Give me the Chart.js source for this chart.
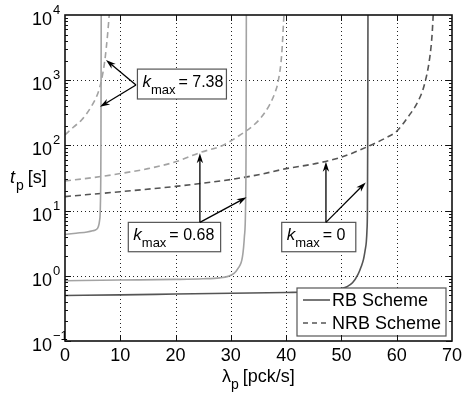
<!DOCTYPE html>
<html>
<head>
<meta charset="utf-8">
<script src="https://cdn.jsdelivr.net/npm/chart.js@4.4.0/dist/chart.umd.min.js"></script>
<style>
  html, body { margin: 0; padding: 0; background: #fff; }
  #box { width: 462px; height: 393px; position: relative; }
</style>
</head>
<body>
<div id="box"><canvas id="tp-chart"></canvas></div>
<script>
// ejes
const xTicks = [0, 10, 20, 30, 40, 50, 60, 70];
const yExp = [-1, 0, 1, 2, 3, 4];

// RB Scheme (linea continua)
const lambdaRB0 = [0, 10, 20, 30, 40, 45, 48, 50, 51, 52, 53, 53.6, 54, 54.3, 54.5, 54.62, 54.7, 54.75, 54.8];
const tRB0 = [0.50, 0.51, 0.525, 0.54, 0.555, 0.57, 0.6, 0.64, 0.68, 0.78, 1.05, 1.4, 1.8, 2.5, 3.3, 5, 10, 100, 10000];

const lambdaRB068 = [0, 10, 20, 25, 28, 29.5, 30.5, 31.3, 32.1, 32.45, 32.65, 32.75, 32.8];
const tRB068 = [0.84, 0.86, 0.88, 0.9, 0.93, 0.98, 1.08, 1.3, 1.96, 4, 10, 100, 10000];

const lambdaRB738 = [0, 2, 4, 5, 5.6, 6.0, 6.25, 6.4, 6.5, 6.55];
const tRB738 = [4.3, 4.5, 4.7, 4.9, 5.1, 5.6, 7, 12, 100, 10000];

// NRB Scheme (linea discontinua)
const lambdaNRB0 = [0, 10, 20, 30, 35, 40, 45, 50, 55, 58, 60, 62, 64, 65, 66, 66.4, 66.6];
const tNRB0 = [16.4, 19.5, 23.5, 30, 35.5, 44, 52, 66, 98, 130, 165, 270, 500, 850, 2300, 5000, 10000];

const lambdaNRB068 = [0, 5, 10, 15, 20, 24.5, 28.5, 31.7, 34, 35.5, 37, 38, 38.6, 39.2, 39.6];
const tNRB068 = [28.5, 32, 37, 44, 56, 78, 100, 145, 200, 270, 420, 650, 1000, 2500, 10000];

const lambdaNRB738 = [0, 1.5, 3, 4.8, 6, 6.6, 7.2, 7.7, 8.0];
const tNRB738 = [145, 190, 245, 400, 650, 1000, 2000, 5000, 10000];

// cajas de texto con flechas (coordenadas en datos)
const annotations = [
  { value: '7.38', box: [13.1, 29.2, 1480, 515], tail: [12.84, 845], tips: [[7.41, 2040], [6.33, 390]] },
  { value: '0.68', box: [11.45, 28.15, 6.6, 2.34], tail: [24.4, 6.6], tips: [[24.4, 76], [32.85, 16]] },
  { value: '0', box: [39.2, 52.6, 6.6, 2.34], tail: [47.2, 6.6], tips: [[47.2, 56], [54.4, 27]] }
];

const FONT = '"Liberation Sans", Arial, Helvetica, sans-serif';
const DARK = '#555555';
const LIGHT = '#a3a3a3';

function pts(xs, ys) {
  return xs.map(function (x, i) { return { x: x, y: ys[i] }; });
}

function serie(xs, ys, color, dashed) {
  return {
    data: pts(xs, ys),
    borderColor: color,
    borderWidth: 1.6,
    borderDash: dashed ? [6, 4] : [],
    showLine: true,
    fill: false,
    pointRadius: 0,
    cubicInterpolationMode: 'monotone'
  };
}

function line(ctx, x1, y1, x2, y2) {
  ctx.beginPath();
  ctx.moveTo(x1, y1);
  ctx.lineTo(x2, y2);
  ctx.stroke();
}

function arrow(ctx, x1, y1, x2, y2) {
  const ang = Math.atan2(y2 - y1, x2 - x1);
  const len = 10, w = 3.2;
  line(ctx, x1, y1, x2 - Math.cos(ang) * 4, y2 - Math.sin(ang) * 4);
  ctx.beginPath();
  ctx.moveTo(x2, y2);
  ctx.lineTo(x2 - len * Math.cos(ang) + w * Math.sin(ang), y2 - len * Math.sin(ang) - w * Math.cos(ang));
  ctx.lineTo(x2 - len * 0.7 * Math.cos(ang), y2 - len * 0.7 * Math.sin(ang));
  ctx.lineTo(x2 - len * Math.cos(ang) - w * Math.sin(ang), y2 - len * Math.sin(ang) + w * Math.cos(ang));
  ctx.closePath();
  ctx.fill();
}

const decoPlugin = {
  id: 'deco',
  beforeDatasetsDraw: function (chart) {
    const ctx = chart.ctx, a = chart.chartArea, x = chart.scales.x, y = chart.scales.y;
    // grid punteado
    ctx.save();
    ctx.strokeStyle = '#222';
    ctx.lineWidth = 1;
    ctx.setLineDash([1, 3]);
    xTicks.slice(1, -1).forEach(function (v) {
      const px = Math.round(x.getPixelForValue(v)) + 0.5;
      line(ctx, px, a.top, px, a.bottom);
    });
    yExp.slice(1, -1).forEach(function (e) {
      const py = Math.round(y.getPixelForValue(Math.pow(10, e))) + 0.5;
      line(ctx, a.left, py, a.right, py);
    });
    ctx.restore();
  },
  afterDatasetsDraw: function (chart) {
    const ctx = chart.ctx, a = chart.chartArea, x = chart.scales.x, y = chart.scales.y;
    ctx.save();
    // anotaciones k_max
    annotations.forEach(function (an) {
      const x0 = x.getPixelForValue(an.box[0]), x1 = x.getPixelForValue(an.box[1]);
      const y0 = y.getPixelForValue(an.box[2]), y1 = y.getPixelForValue(an.box[3]);
      ctx.fillStyle = '#fff';
      ctx.fillRect(x0, y0, x1 - x0, y1 - y0);
      ctx.strokeStyle = '#555';
      ctx.lineWidth = 1.2;
      ctx.strokeRect(x0, y0, x1 - x0, y1 - y0);
      ctx.fillStyle = '#000';
      ctx.textBaseline = 'alphabetic';
      ctx.textAlign = 'left';
      let tx = x0 + 5;
      const base = y0 + 18;
      ctx.font = 'italic 17px ' + FONT;
      ctx.fillText('k', tx, base);
      tx += ctx.measureText('k').width;
      ctx.font = '13px ' + FONT;
      ctx.fillText('max', tx, base + 7);
      tx += ctx.measureText('max').width + 3;
      ctx.font = '16px ' + FONT;
      ctx.fillText('= ' + an.value, tx, base);

      ctx.strokeStyle = '#000';
      ctx.lineWidth = 1.3;
      const sx = x.getPixelForValue(an.tail[0]), sy = y.getPixelForValue(an.tail[1]);
      an.tips.forEach(function (t) {
        arrow(ctx, sx, sy, x.getPixelForValue(t[0]), y.getPixelForValue(t[1]));
      });
    });

    // leyenda
    const lx0 = 297, lx1 = 446, ly0 = 288, ly1 = 336;
    ctx.fillStyle = '#fff';
    ctx.fillRect(lx0, ly0, lx1 - lx0, ly1 - ly0);
    ctx.strokeStyle = '#555';
    ctx.lineWidth = 1.2;
    ctx.strokeRect(lx0, ly0, lx1 - lx0, ly1 - ly0);
    ctx.strokeStyle = DARK;
    ctx.lineWidth = 1.6;
    line(ctx, 303, 300, 330, 300);
    ctx.setLineDash([5, 4]);
    line(ctx, 303, 323, 330, 323);
    ctx.setLineDash([]);
    ctx.fillStyle = '#000';
    ctx.font = '18px ' + FONT;
    ctx.textBaseline = 'middle';
    ctx.fillText('RB Scheme', 332, 301);
    ctx.fillText('NRB Scheme', 332, 324);
    ctx.restore();
  },
  afterDraw: function (chart) {
    const ctx = chart.ctx, a = chart.chartArea, x = chart.scales.x, y = chart.scales.y;
    ctx.save();
    ctx.strokeStyle = '#111';
    ctx.lineWidth = 1;
    // ticks hacia adentro
    xTicks.slice(1, -1).forEach(function (v) {
      const px = Math.round(x.getPixelForValue(v)) + 0.5;
      line(ctx, px, a.bottom, px, a.bottom - 6);
      line(ctx, px, a.top, px, a.top + 6);
    });
    for (let e = -1; e <= 3; e++) {
      for (let k = 1; k <= 9; k++) {
        const py = Math.round(y.getPixelForValue(k * Math.pow(10, e))) + 0.5;
        const len = k === 1 ? 6 : 3;
        line(ctx, a.left, py, a.left + len, py);
        line(ctx, a.right, py, a.right - len, py);
      }
    }
    // marco
    ctx.lineWidth = 1.6;
    ctx.strokeRect(a.left, a.top, a.right - a.left, a.bottom - a.top);

    // etiquetas eje x
    ctx.fillStyle = '#000';
    ctx.font = '18px ' + FONT;
    ctx.textAlign = 'center';
    ctx.textBaseline = 'alphabetic';
    xTicks.forEach(function (v) {
      ctx.fillText(String(v), x.getPixelForValue(v), 361);
    });
    // etiquetas eje y (10^n)
    yExp.forEach(function (e) {
      const py = y.getPixelForValue(Math.pow(10, e));
      ctx.font = '18px ' + FONT;
      ctx.textAlign = 'right';
      ctx.fillText('10', 52, py + 10);
      ctx.font = '13px ' + FONT;
      ctx.textAlign = 'left';
      ctx.fillText(e < 0 ? '\u2212' + Math.abs(e) : String(e), 53, py - 1);
    });

    // titulo eje x: lambda_p [pck/s]
    ctx.textAlign = 'left';
    ctx.font = '18px ' + FONT;
    let tx = 222;
    ctx.fillText('\u03bb', tx, 382);
    tx += ctx.measureText('\u03bb').width;
    ctx.font = '14px ' + FONT;
    ctx.fillText('p', tx, 389);
    tx += ctx.measureText('p').width + 4;
    ctx.font = '18px ' + FONT;
    ctx.fillText('[pck/s]', tx, 382);

    // titulo eje y: t_p [s]
    ctx.font = 'italic 18px ' + FONT;
    tx = 10;
    ctx.fillText('t', tx, 183);
    tx += ctx.measureText('t').width + 1;
    ctx.font = '14px ' + FONT;
    ctx.fillText('p', tx, 190);
    tx += ctx.measureText('p').width + 4;
    ctx.font = '18px ' + FONT;
    ctx.fillText('[s]', tx, 183);
    ctx.restore();
  }
};

new Chart(document.getElementById('tp-chart').getContext('2d'), {
  type: 'scatter',
  data: {
    datasets: [
      serie(lambdaRB738, tRB738, LIGHT, false),
      serie(lambdaRB068, tRB068, LIGHT, false),
      serie(lambdaRB0, tRB0, DARK, false),
      serie(lambdaNRB738, tNRB738, LIGHT, true),
      serie(lambdaNRB068, tNRB068, LIGHT, true),
      serie(lambdaNRB0, tNRB0, DARK, true)
    ]
  },
  options: {
    responsive: true,
    maintainAspectRatio: false,
    animation: false,
    layout: { padding: { left: 65, right: 10, top: 15, bottom: 52 } },
    plugins: {
      legend: { display: false },
      tooltip: { enabled: false }
    },
    scales: {
      x: { type: 'linear', min: 0, max: 70, display: false },
      y: { type: 'logarithmic', min: 0.1, max: 10000, display: false }
    }
  },
  plugins: [decoPlugin]
});
</script>
</body>
</html>
